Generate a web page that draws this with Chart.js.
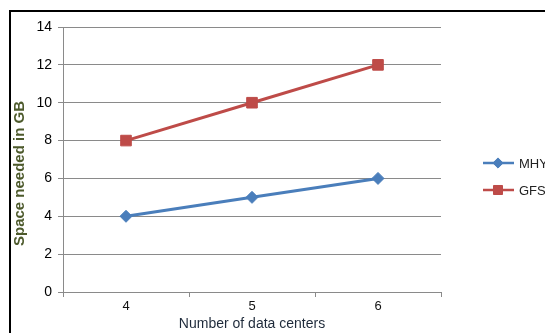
<!DOCTYPE html>
<html>
<head>
<meta charset="utf-8">
<script src="https://cdn.jsdelivr.net/npm/chart.js@4.4.0/dist/chart.umd.min.js"></script>
<style>
  html, body { margin: 0; padding: 0; background: #fff; overflow: hidden; }
  .wrap { position: absolute; left: 0; top: 0; width: 600px; height: 333px; }
  .frame {
    position: absolute; left: 9px; top: 10px; width: 620px; height: 360px;
    border-left: 2px solid #000; border-top: 2px solid #000;
    pointer-events: none;
  }
</style>
</head>
<body>
<div class="wrap"><canvas id="chart" width="600" height="333"></canvas></div>
<div class="frame"></div>
<script>
// data
const dataCenters = ['4', '5', '6'];
const mhyValues = [4, 5, 6];
const gfsValues = [8, 10, 12];
const yTicks = [0, 2, 4, 6, 8, 10, 12, 14];
const yTitle = 'Space needed in GB';

const blue = '#4a7ebb';
const red = '#be4b48';
const gridColor = '#8a8a8a';
const font = '"Liberation Sans", Arial, sans-serif';

// Excel style legend: short line with the marker in the middle
const sideLegend = {
  id: 'sideLegend',
  afterDraw: function(chart) {
    const ctx = chart.ctx;
    chart.data.datasets.forEach(function(ds, i) {
      const y = 163 + i * 27;
      ctx.save();
      ctx.strokeStyle = ds.borderColor;
      ctx.fillStyle = ds.backgroundColor;
      ctx.lineWidth = 2.5;
      ctx.beginPath();
      ctx.moveTo(483, y);
      ctx.lineTo(514, y);
      ctx.stroke();
      ctx.lineWidth = 1;
      Chart.helpers.drawPoint(ctx, {
        pointStyle: ds.pointStyle,
        radius: ds.pointRadius * 0.85,
        rotation: 0,
        borderWidth: 1
      }, 498, y);
      ctx.fillStyle = '#222';
      ctx.font = '13px ' + font;
      ctx.textBaseline = 'middle';
      ctx.textAlign = 'left';
      ctx.fillText(ds.label, 519, y + 1);
      ctx.restore();
    });
  }
};

// y title sits a bit below the middle of the axis in the original
const yAxisTitle = {
  id: 'yAxisTitle',
  afterDraw: function(chart) {
    const ctx = chart.ctx;
    const area = chart.chartArea;
    ctx.save();
    ctx.translate(20, (area.top + area.bottom) / 2 + 14);
    ctx.rotate(-Math.PI / 2);
    ctx.fillStyle = '#4d5a2c';
    ctx.font = 'bold 15px ' + font;
    ctx.textAlign = 'center';
    ctx.textBaseline = 'middle';
    ctx.fillText(yTitle, 0, 0);
    ctx.restore();
  }
};

new Chart(document.getElementById('chart'), {
  type: 'line',
  data: {
    labels: dataCenters,
    datasets: [
      {
        label: 'MHY',
        data: mhyValues,
        borderColor: blue,
        backgroundColor: blue,
        borderWidth: 3,
        pointStyle: 'rectRot',
        pointRadius: 6,
        pointBorderWidth: 1,
        tension: 0
      },
      {
        label: 'GFS',
        data: gfsValues,
        borderColor: red,
        backgroundColor: red,
        borderWidth: 3,
        pointStyle: 'rect',
        pointRadius: 7.5,
        pointBorderWidth: 1,
        tension: 0
      }
    ]
  },
  options: {
    responsive: false,
    animation: false,
    layout: { padding: { left: 12, top: 27, right: 159, bottom: 0 } },
    plugins: {
      legend: { display: false },
      tooltip: { enabled: false }
    },
    scales: {
      x: {
        offset: true,
        afterFit: function(scale) { scale.height = 41; },
        grid: {
          offset: true,
          drawOnChartArea: false,
          drawTicks: true,
          tickLength: 5,
          color: gridColor
        },
        border: { color: gridColor },
        ticks: {
          color: '#111',
          padding: 2,
          font: { family: font, size: 13 }
        },
        title: {
          display: true,
          text: 'Number of data centers',
          color: '#1e2a3a',
          padding: { top: 0, bottom: 0 },
          font: { family: font, size: 14 }
        }
      },
      y: {
        min: 0,
        max: 14,
        afterFit: function(scale) { scale.width = 51; },
        afterBuildTicks: function(scale) {
          scale.ticks = yTicks.map(function(v) { return { value: v }; });
        },
        grid: {
          color: gridColor,
          tickLength: 5
        },
        border: { color: gridColor },
        ticks: {
          color: '#000',
          padding: 6,
          font: { family: font, size: 14 }
        }
      }
    }
  },
  plugins: [sideLegend, yAxisTitle]
});
</script>
</body>
</html>
